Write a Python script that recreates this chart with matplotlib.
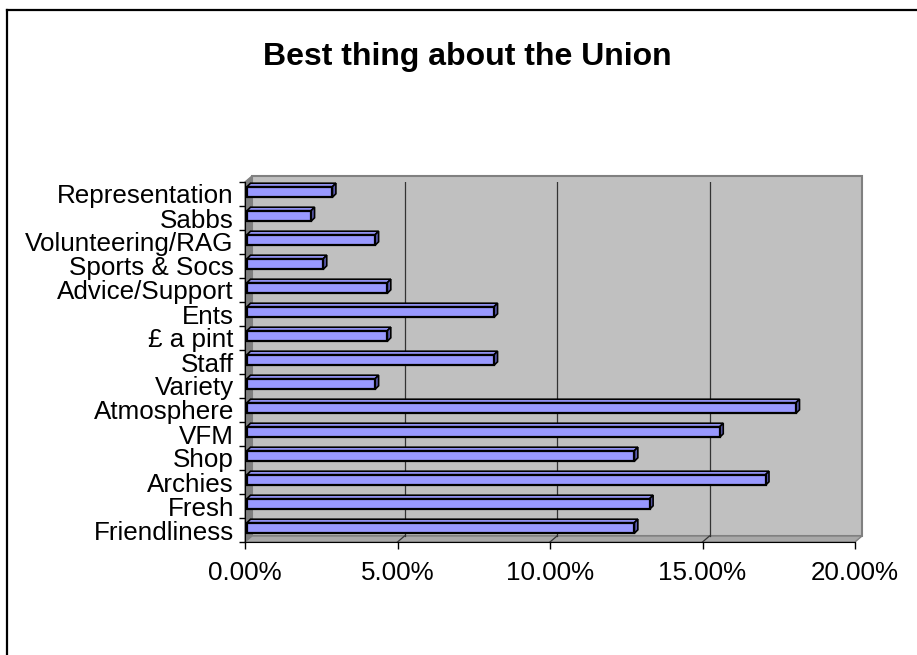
import matplotlib
matplotlib.use("Agg")
import matplotlib.pyplot as plt
from matplotlib.patches import Polygon
from matplotlib.lines import Line2D
from matplotlib.transforms import IdentityTransform, ScaledTranslation
import numpy as np

# categories listed bottom to top, values in percent
categories = ['Friendliness', 'Fresh', 'Archies', 'Shop', 'VFM', 'Atmosphere',
              'Variety', 'Staff', '£ a pint', 'Ents', 'Advice/Support',
              'Sports & Socs', 'Volunteering/RAG', 'Sabbs', 'Representation']
shares = [12.7, 13.2, 17.0, 12.7, 15.5, 18.0,
          4.2, 8.1, 4.6, 8.1, 4.6,
          2.5, 4.2, 2.1, 2.8]
x_ticks = [0, 5, 10, 15, 20]
title = 'Best thing about the Union'

W, H = 917, 655
DPI = 100
plt.rcParams['font.family'] = ['Liberation Sans', 'DejaVu Sans']

fig = plt.figure(figsize=(W / DPI, H / DPI), dpi=DPI)
ax = fig.add_axes([245 / W, 1 - 542 / H, (855 - 245) / W, (542 - 182) / H])
ax.set_facecolor('none')
ax.set_xlim(0, 20)
ax.set_ylim(-0.5, len(categories) - 0.5)
ax.set_autoscale_on(False)

# depth of the 3d box (pixels), bar offset and bar depth
DX, DY = 7, 6
BX, BY = 2, 2
EX, EY = 3.5, 3.5
bar_h = 0.44

xmin, xmax = ax.get_xlim()
ymin, ymax = ax.get_ylim()


def disp(x, y, ox=0.0, oy=0.0):
    p = ax.transData.transform((x, y))
    return (p[0] + ox, p[1] + oy)


def poly(pts, fc, ec, lw=1.0, z=1):
    p = Polygon(pts, closed=True, facecolor=fc, edgecolor=ec, linewidth=lw,
                transform=IdentityTransform(), clip_on=False, zorder=z)
    ax.add_patch(p)


# back wall, side wall, floor
poly([disp(xmin, ymin, DX, DY), disp(xmax, ymin, DX, DY),
      disp(xmax, ymax, DX, DY), disp(xmin, ymax, DX, DY)], '#c0c0c0', '#808080', 1.5, 0.5)
poly([disp(xmin, ymin), disp(xmin, ymin, DX, DY),
      disp(xmin, ymax, DX, DY), disp(xmin, ymax)], '#808080', '#808080', 1.0, 0.6)
poly([disp(xmin, ymin), disp(xmax, ymin),
      disp(xmax, ymin, DX, DY), disp(xmin, ymin, DX, DY)], '#a8a8a8', '#808080', 1.0, 0.6)

# gridlines on the wall and the floor
for xv in x_ticks[1:-1]:
    a = disp(xv, ymin, DX, DY)
    b = disp(xv, ymax, DX, DY)
    ax.add_line(Line2D([a[0], b[0]], [a[1], b[1]], color='#333333', lw=0.9,
                       transform=IdentityTransform(), zorder=0.7))
    c = disp(xv, ymin)
    ax.add_line(Line2D([c[0], a[0]], [c[1], a[1]], color='#333333', lw=0.9,
                       transform=IdentityTransform(), zorder=0.7))

# bars: front face via barh, shifted a little into the depth
shift = ScaledTranslation(BX / DPI, BY / DPI, fig.dpi_scale_trans)
ypos = np.arange(len(categories))
bars = ax.barh(ypos, shares, height=bar_h, color='#9999ff', edgecolor='black',
               linewidth=1.6, zorder=3)
for r in bars:
    r.set_transform(ax.transData + shift)

for y, v in zip(ypos, shares):
    top = y + bar_h / 2
    bot = y - bar_h / 2
    # top face
    poly([disp(0, top, BX, BY), disp(v, top, BX, BY),
          disp(v, top, BX + EX, BY + EY), disp(0, top, BX + EX, BY + EY)],
         '#9999ff', 'black', 1.2, 2.9)
    # end face
    poly([disp(v, bot, BX, BY), disp(v, bot, BX + EX, BY + EY),
          disp(v, top, BX + EX, BY + EY), disp(v, top, BX, BY)],
         '#5c5cb0', 'black', 1.2, 2.9)

# axes
for s in ['top', 'right']:
    ax.spines[s].set_visible(False)
ax.spines['left'].set_color('black')
ax.spines['bottom'].set_color('black')
ax.spines['left'].set_zorder(4)
ax.spines['bottom'].set_zorder(4)

ax.set_yticks(ypos)
ax.set_yticklabels(categories)
ax.set_yticks(np.arange(-0.5, len(categories), 1.0), minor=True)
ax.tick_params(axis='y', which='major', length=0, pad=8, labelsize=18.7)
ax.tick_params(axis='y', which='minor', length=4.3, width=1, color='black')

ax.set_xticks(x_ticks)
ax.set_xticklabels(['%.2f%%' % t for t in x_ticks])
ax.tick_params(axis='x', which='major', length=5, width=1, color='black',
               pad=9, labelsize=18.7)

fig.text(467 / W, 1 - 57 / H, title, ha='center', va='center',
         fontsize=23, fontweight='bold')

# outer chart frame (left and top edges visible)
fig.add_artist(Line2D([7 / W, 7 / W], [0, 1 - 9.5 / H], color='black', lw=1.6,
                      transform=fig.transFigure))
fig.add_artist(Line2D([7 / W, 1], [1 - 9.5 / H, 1 - 9.5 / H], color='black', lw=1.6,
                      transform=fig.transFigure))

fig.savefig('out.png', dpi=DPI)
